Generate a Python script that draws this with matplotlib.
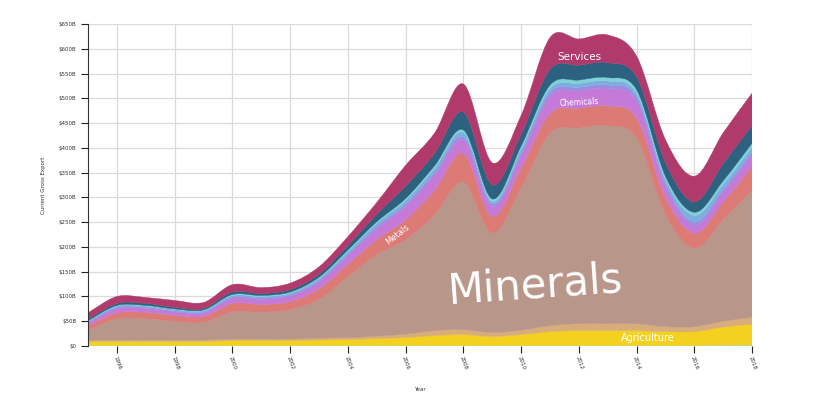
import matplotlib
matplotlib.use("Agg")
import matplotlib.pyplot as plt
import numpy as np
from matplotlib.path import Path
from matplotlib.patches import PathPatch

years = list(range(1995, 2019))

# layer values in $B, bottom to top
animals = [1, 1, 1, 1, 1, 1, 1, 1, 1, 1, 1, 1, 1, 1, 1, 1, 1, 1, 1, 1, 1, 1, 2, 2]
agriculture = [8, 8, 8, 8, 8, 10, 10, 10, 11, 12, 14, 16, 20, 22, 18, 22, 28, 30, 30, 30, 28, 28, 36, 42]
foodstuffs = [2, 3, 3, 3, 3, 3, 3, 3, 4, 4, 5, 7, 10, 10, 8, 9, 12, 14, 14, 14, 10, 10, 12, 14]
minerals = [21, 43, 43, 38, 36, 55, 54, 60, 78, 123, 165, 191, 234, 298, 201, 288, 389, 395, 400, 375, 226, 159, 206, 257]
metals = [9, 12, 13, 12, 12, 17, 16, 16, 22, 25, 30, 40, 50, 58, 34, 40, 40, 40, 40, 40, 35, 30, 35, 48]
chemicals = [6, 9, 8, 7, 7, 10, 10, 11, 14, 17, 22, 27, 30, 27, 20, 25, 35, 35, 35, 35, 22, 16, 20, 25]
plastics = [1, 2, 2, 2, 2, 3, 3, 3, 3, 4, 5, 5, 6, 6, 5, 6, 7, 7, 7, 7, 6, 6, 6, 4]
stone = [2, 3, 3, 3, 3, 3, 3, 3, 4, 5, 6, 7, 8, 9, 5, 8, 8, 8, 8, 8, 8, 14, 10, 10]
textiles = [1, 1, 1, 1, 1, 2, 2, 2, 2, 3, 3, 4, 5, 5, 5, 5, 7, 7, 7, 7, 6, 6, 7, 8]
machinery = [3, 4, 4, 3, 3, 5, 4, 5, 6, 9, 15, 25, 25, 36, 28, 24, 32, 30, 30, 26, 28, 21, 35, 36]
services = [13, 14, 12, 14, 12, 15, 12, 13, 15, 18, 24, 42, 41, 57, 45, 38, 64, 53, 56, 42, 46, 52, 62, 65]

layers = [animals, agriculture, foodstuffs, minerals, metals, chemicals,
          plastics, stone, textiles, machinery, services]
colors = ['#a9d6b6', '#f5d11f', '#d9ad7a', '#b9968a', '#dc7a76', '#c57ad8',
          '#9b8de0', '#7eaee0', '#7fd3d8', '#2c6280', '#b03a6b']


def smooth_codes(xs, ys):
    # catmull-rom through the points, as cubic bezier segments
    pts = list(zip(xs, ys))
    n = len(pts)
    verts = [pts[0]]
    for i in range(n - 1):
        p0 = pts[max(i - 1, 0)]
        p1 = pts[i]
        p2 = pts[i + 1]
        p3 = pts[min(i + 2, n - 1)]
        c1 = (p1[0] + (p2[0] - p0[0]) / 6, p1[1] + (p2[1] - p0[1]) / 6)
        c2 = (p2[0] - (p3[0] - p1[0]) / 6, p2[1] - (p3[1] - p1[1]) / 6)
        verts += [c1, c2, p2]
    return verts


fig = plt.figure(figsize=(8.15, 3.95), dpi=100)
ax = fig.add_axes([0.108, 0.124, 0.815, 0.815])

x = np.array(years, dtype=float)
base = np.zeros(len(years))
for vals, col in zip(layers, colors):
    top = base + np.array(vals, dtype=float)
    up = smooth_codes(x, top)
    down = smooth_codes(x[::-1], base[::-1])
    verts = up + [down[0]] + down[1:] + [up[0]]
    codes = ([Path.MOVETO] + [Path.CURVE4] * (len(up) - 1) + [Path.LINETO]
             + [Path.CURVE4] * (len(down) - 1) + [Path.CLOSEPOLY])
    ax.add_patch(PathPatch(Path(verts, codes), facecolor=col, edgecolor=col, lw=0.3, zorder=2))
    base = top

ax.set_xlim(1995, 2018)
ax.set_ylim(0, 650)
ax.set_xticks(range(1996, 2019, 2))
ax.set_yticks(range(0, 651, 50))
ax.set_yticklabels(['$0'] + ['$%dB' % v for v in range(50, 651, 50)])
ax.grid(True, color='#dadada', lw=0.9, zorder=0)
ax.set_axisbelow(True)
for s in ['top', 'right', 'bottom']:
    ax.spines[s].set_visible(False)
ax.spines['left'].set_color('#333333')
ax.spines['left'].set_linewidth(0.8)
ax.tick_params(axis='y', labelsize=4, length=5, width=0.8, color='#222222', labelcolor='#333333')
ax.tick_params(axis='x', labelsize=4, length=5, width=0.8, color='#222222', labelcolor='#333333', pad=2)
for lab in ax.get_xticklabels():
    lab.set_rotation(-70)
    lab.set_ha('left')
    lab.set_va('top')
    lab.set_rotation_mode('anchor')

ax.set_ylabel('Current Gross Export', fontsize=4, color='#333333')
ax.set_xlabel('Year', fontsize=4, color='#333333')
ax.yaxis.set_label_coords(-0.063, 0.5)
ax.xaxis.set_label_coords(0.5, -0.127)

ax.text(2010.5, 123, 'Minerals', color='white', fontsize=30, rotation=4, ha='center', va='center', zorder=3)
ax.text(2012.0, 583, 'Services', color='white', fontsize=7.5, ha='center', va='center', zorder=3)
ax.text(2012.0, 492, 'Chemicals', color='white', fontsize=5.5, rotation=3, ha='center', va='center', zorder=3)
ax.text(2005.7, 226, 'Metals', color='white', fontsize=6, rotation=38, ha='center', va='center', zorder=3)
ax.text(2014.4, 17, 'Agriculture', color='white', fontsize=7, ha='center', va='center', zorder=3)

fig.savefig('out.png', dpi=100)
